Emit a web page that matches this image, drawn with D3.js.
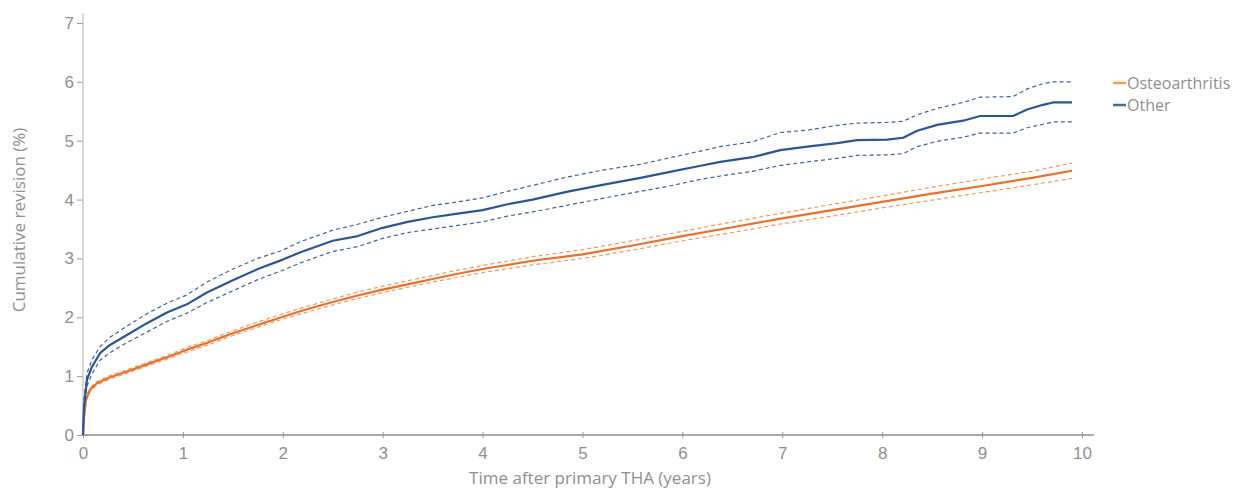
<!DOCTYPE html>
<html>
<head>
<meta charset="utf-8">
<script src="https://cdn.jsdelivr.net/npm/d3@7"></script>
<style>
  html, body { margin: 0; padding: 0; background: #fff; }
  svg { display: block; font-family: "Open Sans", "Noto Sans", sans-serif; }
  .tick text { fill: #8f8f8f; font-size: 17px; }
  .tick line { stroke: #9a9a9a; }
  .axis-title { fill: #8f8f8f; font-size: 17px; }
  .legend text { fill: #8f8f8f; font-size: 16px; }
</style>
</head>
<body>
<svg id="chart" width="1256" height="496"></svg>
<script>
// Cumulative revision (%) after primary THA, by diagnosis

const xTicks = [0, 1, 2, 3, 4, 5, 6, 7, 8, 9, 10];
const yTicks = [0, 1, 2, 3, 4, 5, 6, 7];

// Osteoarthritis
const oaYears = [0, 0.01, 0.03, 0.07, 0.14, 0.27, 0.44, 0.64, 0.84, 1.04, 1.25, 1.5, 1.75, 2, 2.25, 2.5, 2.75, 3, 3.25, 3.5, 3.75, 4, 4.5, 5, 5.5, 6, 6.5, 7, 7.5, 8, 8.5, 9, 9.5, 9.9];
const oaRev   = [0, 0.3, 0.6, 0.77, 0.88, 0.98, 1.08, 1.2, 1.32, 1.45, 1.57, 1.73, 1.87, 2.01, 2.14, 2.26, 2.37, 2.47, 2.56, 2.65, 2.74, 2.82, 2.96, 3.07, 3.22, 3.38, 3.53, 3.68, 3.82, 3.96, 4.1, 4.23, 4.37, 4.49];
const oaLow   = [0, 0.28, 0.57, 0.74, 0.85, 0.95, 1.05, 1.17, 1.29, 1.41, 1.53, 1.69, 1.83, 1.97, 2.09, 2.21, 2.32, 2.42, 2.51, 2.6, 2.68, 2.76, 2.89, 3.0, 3.14, 3.3, 3.44, 3.59, 3.72, 3.86, 3.99, 4.12, 4.25, 4.36];
const oaHigh  = [0, 0.32, 0.63, 0.8, 0.91, 1.01, 1.11, 1.23, 1.35, 1.49, 1.61, 1.77, 1.92, 2.06, 2.19, 2.31, 2.43, 2.53, 2.62, 2.71, 2.8, 2.88, 3.03, 3.15, 3.3, 3.46, 3.62, 3.77, 3.92, 4.06, 4.21, 4.35, 4.48, 4.62];

// Other
const otYears = [0, 0.01, 0.04, 0.09, 0.17, 0.27, 0.44, 0.64, 0.84, 1.04, 1.24, 1.5, 1.75, 2, 2.17, 2.5, 2.75, 3, 3.25, 3.5, 3.75, 4, 4.25, 4.5, 4.84, 5.2, 5.58, 5.9, 6.17, 6.38, 6.7, 6.98, 7.25, 7.55, 7.75, 8.05, 8.21, 8.35, 8.55, 8.81, 8.98, 9.31, 9.45, 9.61, 9.71, 9.9];
const otRev   = [0, 0.5, 0.94, 1.16, 1.39, 1.53, 1.7, 1.9, 2.08, 2.22, 2.42, 2.63, 2.82, 2.98, 3.1, 3.3, 3.38, 3.52, 3.62, 3.7, 3.76, 3.82, 3.92, 4.0, 4.13, 4.25, 4.37, 4.48, 4.57, 4.64, 4.72, 4.84, 4.9, 4.96, 5.01, 5.02, 5.05, 5.17, 5.27, 5.34, 5.42, 5.42, 5.53, 5.61, 5.65, 5.65];
const otLow   = [0, 0.4, 0.83, 1.04, 1.27, 1.4, 1.57, 1.75, 1.93, 2.07, 2.25, 2.45, 2.64, 2.8, 2.92, 3.12, 3.2, 3.34, 3.44, 3.5, 3.56, 3.62, 3.72, 3.79, 3.9, 4.02, 4.14, 4.24, 4.34, 4.4, 4.48, 4.58, 4.64, 4.7, 4.75, 4.76, 4.78, 4.9, 4.99, 5.06, 5.13, 5.13, 5.22, 5.28, 5.32, 5.32];
const otHigh  = [0, 0.6, 1.05, 1.28, 1.5, 1.66, 1.85, 2.06, 2.24, 2.38, 2.6, 2.82, 3.0, 3.14, 3.28, 3.48, 3.58, 3.7, 3.8, 3.9, 3.96, 4.03, 4.14, 4.24, 4.38, 4.5, 4.6, 4.72, 4.82, 4.9, 4.98, 5.14, 5.18, 5.26, 5.3, 5.31, 5.33, 5.44, 5.55, 5.65, 5.74, 5.75, 5.88, 5.97, 6.0, 6.0];

const legendLabels = ['Osteoarthritis', 'Other'];

const ORANGE = '#e8702c';
const ORANGE_CI = '#ef9a5c';
const BLUE = '#2b5593';
const BLUE_CI = '#3f6399';

const svg = d3.select('#chart');
const x = d3.scaleLinear().domain([0, 10]).range([83, 1082]);
const y = d3.scaleLinear().domain([0, 7]).range([435, 23]);

// Axes
const xAxis = svg.append('g')
  .attr('transform', 'translate(0,435)')
  .call(d3.axisBottom(x).tickValues(xTicks).tickFormat(d3.format('d')).tickSize(4).tickSizeOuter(0));
xAxis.select('.domain').remove();
xAxis.selectAll('.tick line').attr('y1', -3).attr('y2', 3);
xAxis.selectAll('.tick text').attr('y', 12).attr('font-family', null).attr('font-size', null);

const yAxis = svg.append('g')
  .attr('transform', 'translate(83,0)')
  .call(d3.axisLeft(y).tickValues(yTicks).tickFormat(d3.format('d')).tickSize(6).tickPadding(3).tickSizeOuter(0));
yAxis.select('.domain').remove();
yAxis.selectAll('.tick text').attr('font-family', null).attr('font-size', null);

svg.append('line')
  .attr('x1', 83).attr('x2', 1094).attr('y1', 435).attr('y2', 435)
  .attr('stroke', '#8c8c8c').attr('stroke-width', 1.3);
svg.append('line')
  .attr('x1', 83).attr('x2', 83).attr('y1', 13).attr('y2', 435)
  .attr('stroke', '#c4c4c4').attr('stroke-width', 1.3);

svg.append('text')
  .attr('class', 'axis-title')
  .attr('x', 590).attr('y', 484)
  .attr('text-anchor', 'middle')
  .text('Time after primary THA (years)');

svg.append('text')
  .attr('class', 'axis-title')
  .attr('transform', 'translate(25,220) rotate(-90)')
  .attr('text-anchor', 'middle')
  .text('Cumulative revision (%)');

// Curves
const line = d3.line().x(d => x(d[0])).y(d => y(d[1]));
const plot = svg.append('g');

function drawSeries(years, vals, color, dashed, width) {
  plot.append('path')
    .datum(years.map((t, i) => [t, vals[i]]))
    .attr('fill', 'none')
    .attr('stroke', color)
    .attr('stroke-width', width)
    .attr('stroke-dasharray', dashed ? '4,3' : null)
    .attr('stroke-linejoin', 'round')
    .attr('d', line);
}

drawSeries(oaYears, oaLow, ORANGE_CI, true, 1.2);
drawSeries(oaYears, oaHigh, ORANGE_CI, true, 1.2);
drawSeries(oaYears, oaRev, ORANGE, false, 2.2);
drawSeries(otYears, otLow, BLUE_CI, true, 1.2);
drawSeries(otYears, otHigh, BLUE_CI, true, 1.2);
drawSeries(otYears, otRev, BLUE, false, 2.2);

// Legend
const legend = svg.append('g').attr('class', 'legend');
legendLabels.forEach((lab, i) => {
  const ly = 83 + i * 22;
  legend.append('line')
    .attr('x1', 1113).attr('x2', 1126).attr('y1', ly).attr('y2', ly)
    .attr('stroke', i === 0 ? '#f0a050' : '#4a6a92').attr('stroke-width', 2.5);
  legend.append('text')
    .attr('x', 1127).attr('y', ly + 6)
    .text(lab);
});
</script>
</body>
</html>
